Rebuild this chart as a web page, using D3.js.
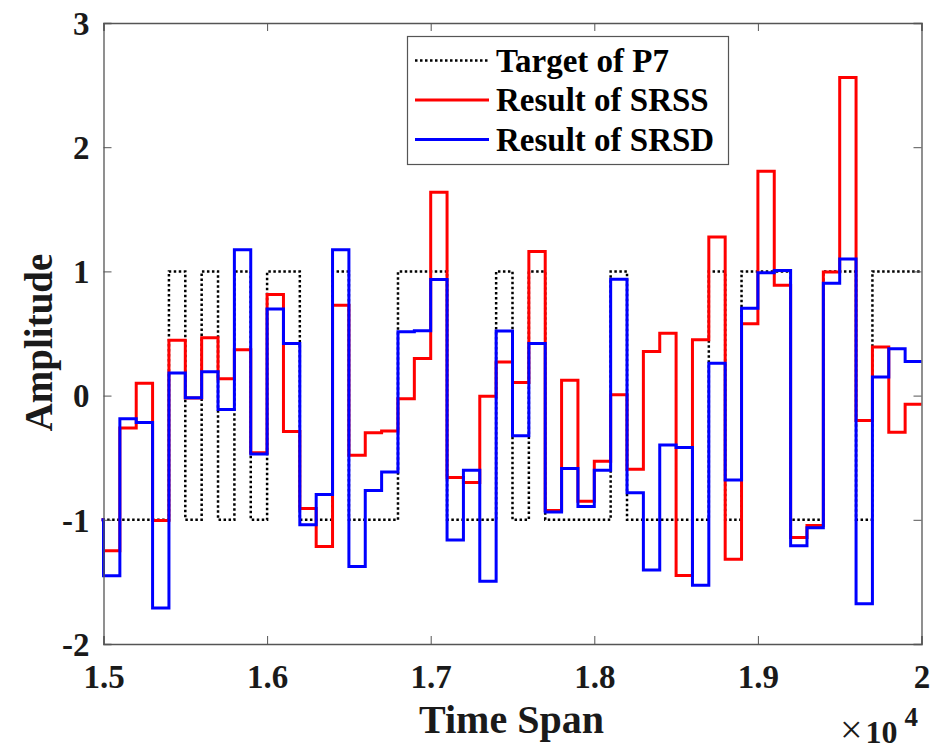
<!DOCTYPE html>
<html>
<head>
<meta charset="utf-8">
<script src="https://cdn.jsdelivr.net/npm/d3@7"></script>
<style>
  html, body { margin: 0; padding: 0; background: #fff; }
  svg { display: block; }
  text { font-family: "Liberation Serif", "Times New Roman", serif; }
</style>
</head>
<body>
<svg id="chart" width="935" height="751"></svg>
<script>
// Step starts (one sample every 100 time units; the first sample lies just before the visible span)
const stepTimes = d3.range(14900, 20000, 100);
const spanEnd = 20000;

// Reference square wave (P7)
const targetP7 = [-1,
  -1, -1, -1, -1, 1, -1, 1, -1, 1, -1,
   1,  1, -1, -1, 1, -1, -1, -1, 1, 1,
   1, -1, -1, -1, 1, -1, 1, -1, -1, -1,
  -1,  1, -1, -1, -1, -1, -1, 1, -1, 1,
   1,  1, -1, -1, 1, 1, -1, 1, 1, 1];

// Reconstruction with SRSS
const resultSRSS = [-1.0,
  -1.25, -0.26, 0.10, -1.005, 0.445, -0.02, 0.465, 0.135, 0.37, -0.46,
   0.815, -0.29, -0.91, -1.215, 0.727, -0.48, -0.30, -0.285, -0.026, 0.298,
   1.638, -0.66, -0.70, -0.006, 0.27, 0.105, 1.16, -0.925, 0.123, -0.85,
  -0.528, 0.006, -0.593, 0.356, 0.502, -1.448, 0.45, 1.276, -1.317, 0.578,
   1.807, 0.888, -1.142, -1.045, 0.996, 2.561, -0.20, 0.391, -0.295, -0.07];

// Reconstruction with SRSD
const resultSRSD = [-1.0,
  -1.45, -0.187, -0.216, -1.71, 0.181, -0.018, 0.193, -0.111, 1.174, -0.47,
   0.698, 0.42, -1.039, -0.797, 1.174, -1.375, -0.765, -0.616, 0.514, 0.523,
   0.934, -1.162, -0.601, -1.495, 0.52, -0.324, 0.42, -0.937, -0.587, -0.893,
  -0.601, 0.937, -0.782, -1.404, -0.397, -0.418, -1.527, 0.26, -0.68, 0.704,
   0.99, 1.007, -1.209, -1.063, 0.905, 1.10, -1.676, 0.149, 0.377, 0.274];

const xTicks = [15000, 16000, 17000, 18000, 19000, 20000];
const xTickLabels = ["1.5", "1.6", "1.7", "1.8", "1.9", "2"];
const yTicks = [-2, -1, 0, 1, 2, 3];
const yTickLabels = ["-2", "-1", "0", "1", "2", "3"];
const legendLabels = ["Target of P7", "Result of SRSS", "Result of SRSD"];
const seriesColors = ["#000000", "#ff0000", "#0000ff"];

const svg = d3.select("#chart");
const plot = { left: 103.5, right: 921.5, top: 23, bottom: 644 };

const x = d3.scaleLinear().domain([15000, 20000]).range([plot.left, plot.right]);
const y = d3.scaleLinear().domain([-2, 3]).range([plot.bottom, plot.top]);

svg.append("defs").append("clipPath").attr("id", "plotClip")
  .append("rect")
  .attr("x", plot.left - 2).attr("y", plot.top)
  .attr("width", plot.right - plot.left + 4).attr("height", plot.bottom - plot.top);

function toPoints(values) {
  const pts = stepTimes.map((t, i) => [t, values[i]]);
  pts.push([spanEnd, values[values.length - 1]]);
  return pts;
}

const line = d3.line()
  .x(d => x(d[0]))
  .y(d => y(d[1]))
  .curve(d3.curveStepAfter);

const series = [
  { values: targetP7, color: seriesColors[0], width: 2.5, dash: "2.5,2.5" },
  { values: resultSRSS, color: seriesColors[1], width: 3, dash: null },
  { values: resultSRSD, color: seriesColors[2], width: 3, dash: null }
];

const lines = svg.append("g").attr("clip-path", "url(#plotClip)");
series.forEach(s => {
  lines.append("path")
    .datum(toPoints(s.values))
    .attr("d", line)
    .attr("fill", "none")
    .attr("stroke", s.color)
    .attr("stroke-width", s.width)
    .attr("stroke-dasharray", s.dash)
    .attr("stroke-linejoin", "miter");
});

// Axes box with inward ticks on every side
const axisColor = "#555";
const tickLen = 8;
const axes = svg.append("g");

const bottomAxis = d3.axisBottom(x).tickValues(xTicks).tickSize(-tickLen)
  .tickFormat((d, i) => xTickLabels[i]).tickPadding(21);
const topAxis = d3.axisTop(x).tickValues(xTicks).tickSize(-tickLen).tickFormat("");
const leftAxis = d3.axisLeft(y).tickValues(yTicks).tickSize(-tickLen)
  .tickFormat((d, i) => yTickLabels[i]).tickPadding(14);
const rightAxis = d3.axisRight(y).tickValues(yTicks).tickSize(-tickLen).tickFormat("");

const gB = axes.append("g").attr("transform", `translate(0,${plot.bottom})`).call(bottomAxis);
const gT = axes.append("g").attr("transform", `translate(0,${plot.top})`).call(topAxis);
const gL = axes.append("g").attr("transform", `translate(${plot.left},0)`).call(leftAxis);
const gR = axes.append("g").attr("transform", `translate(${plot.right},0)`).call(rightAxis);

[gB, gT, gL, gR].forEach(g => {
  g.select(".domain").attr("stroke", axisColor).attr("stroke-width", 1.3);
  g.selectAll(".tick line").attr("stroke", axisColor).attr("stroke-width", 1);
  g.selectAll(".tick text")
    .attr("fill", "#1a1a1a")
    .style("font-family", "'Liberation Serif', 'Times New Roman', serif")
    .style("font-weight", "bold")
    .style("font-size", "33px");
});
gB.selectAll(".tick text").attr("dy", "0.71em");
gL.selectAll(".tick text").attr("dy", "0.34em");

// Axis titles
svg.append("text")
  .attr("x", (plot.left + plot.right) / 2 - 1)
  .attr("y", 733)
  .attr("text-anchor", "middle")
  .style("font-weight", "bold").style("font-size", "40px")
  .attr("fill", "#1a1a1a")
  .text("Time Span");

svg.append("text")
  .attr("transform", `translate(52,${(plot.top + plot.bottom) / 2 + 9}) rotate(-90)`)
  .attr("text-anchor", "middle")
  .style("font-weight", "bold").style("font-size", "39px")
  .attr("fill", "#1a1a1a")
  .text("Amplitude");

// Exponent marker for the time axis
const expo = svg.append("text")
  .attr("x", 840).attr("y", 743)
  .attr("fill", "#1a1a1a")
  .style("font-size", "32px");
expo.append("tspan").style("font-size", "40px").text("\u00d7");
expo.append("tspan").style("font-weight", "bold").attr("dx", 3).text("10");
expo.append("tspan").style("font-weight", "bold").style("font-size", "27px")
  .attr("dy", -17).attr("dx", 7).text("4");

// Legend
const legend = svg.append("g");
legend.append("rect")
  .attr("x", 407.5).attr("y", 36.5).attr("width", 321).attr("height", 128)
  .attr("fill", "#fff").attr("stroke", "#555").attr("stroke-width", 1.2);

legendLabels.forEach((label, i) => {
  const cy = 60.5 + i * 39.5;
  const s = series[i];
  legend.append("line")
    .attr("x1", 415).attr("x2", 489).attr("y1", cy).attr("y2", cy)
    .attr("stroke", s.color).attr("stroke-width", s.width)
    .attr("stroke-dasharray", s.dash);
  legend.append("text")
    .attr("x", 496).attr("y", cy + 11)
    .attr("fill", "#000")
    .style("font-weight", "bold").style("font-size", "33px")
    .text(label);
});
</script>
</body>
</html>
